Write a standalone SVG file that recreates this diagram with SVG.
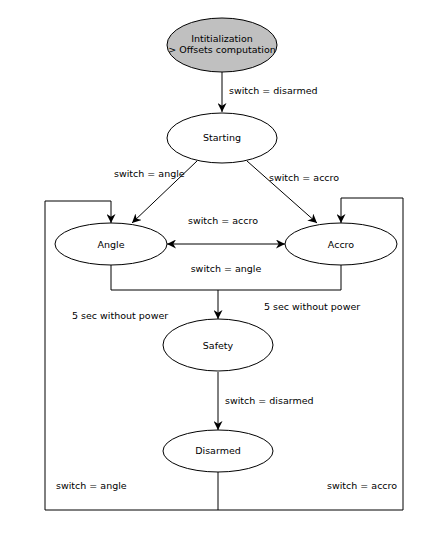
<svg xmlns="http://www.w3.org/2000/svg" width="427" height="533" viewBox="0 0 427 533">
<style>
.n{fill:#fff;stroke:#000;stroke-width:1}
.l{fill:none;stroke:#000;stroke-width:1}
text{font-family:"DejaVu Sans",sans-serif;font-size:9.5px;fill:#000}
.c{text-anchor:middle}
</style>
<defs>
<marker id="a" viewBox="0 0 10 10" refX="10" refY="5" markerWidth="9" markerHeight="9" markerUnits="userSpaceOnUse" orient="auto-start-reverse">
<path d="M0,0 L10,5 L0,10 L3,5 z" fill="#000"/>
</marker>
</defs>
<rect width="427" height="533" fill="#fff"/>
<g id="connectors">
<line class="l" x1="222" y1="72" x2="222" y2="112" marker-end="url(#a)"/>
<line class="l" x1="197" y1="161" x2="132" y2="223" marker-end="url(#a)"/>
<line class="l" x1="247" y1="161" x2="317" y2="223" marker-end="url(#a)"/>
<line class="l" x1="167" y1="244" x2="285" y2="244" marker-start="url(#a)" marker-end="url(#a)"/>
<polyline class="l" points="111,265 111,290 341,290 341,265"/>
<line class="l" x1="218" y1="290" x2="218" y2="319" marker-end="url(#a)"/>
<line class="l" x1="218" y1="372" x2="218" y2="430" marker-end="url(#a)"/>
<polyline class="l" points="218,472 218,510 45,510 45,201 111,201 111,223" marker-end="url(#a)"/>
<polyline class="l" points="218,510 403,510 403,198 341,198 341,223" marker-end="url(#a)"/>
<text x="229" y="94">switch = disarmed</text>
<text x="114" y="177">switch = angle</text>
<text x="269" y="181">switch = accro</text>
<text x="223" y="224" class="c">switch = accro</text>
<text x="226" y="272" class="c">switch = angle</text>
<text x="72" y="319">5 sec without power</text>
<text x="264" y="310">5 sec without power</text>
<text x="225" y="404">switch = disarmed</text>
<text x="56" y="489">switch = angle</text>
<text x="327" y="489">switch = accro</text>
</g>
<g id="init">
<ellipse cx="222" cy="45" rx="55" ry="27" fill="#c0c0c0" stroke="#000"/>
<text x="222" y="42" class="c">Intitialization</text>
<text x="222" y="53" class="c">&gt; Offsets computation</text>
</g>
<g id="starting">
<ellipse class="n" cx="222" cy="138" rx="55" ry="25"/>
<text x="222" y="141" class="c">Starting</text>
</g>
<g id="angle">
<ellipse class="n" cx="111" cy="244" rx="56" ry="21"/>
<text x="111" y="248" class="c">Angle</text>
</g>
<g id="accro">
<ellipse class="n" cx="341" cy="244" rx="56" ry="21"/>
<text x="341" y="248" class="c">Accro</text>
</g>
<g id="safety">
<ellipse class="n" cx="218" cy="345" rx="55" ry="26"/>
<text x="218" y="349" class="c">Safety</text>
</g>
<g id="disarmed">
<ellipse class="n" cx="218" cy="451" rx="55" ry="21"/>
<text x="218" y="454" class="c">Disarmed</text>
</g>
</svg>
